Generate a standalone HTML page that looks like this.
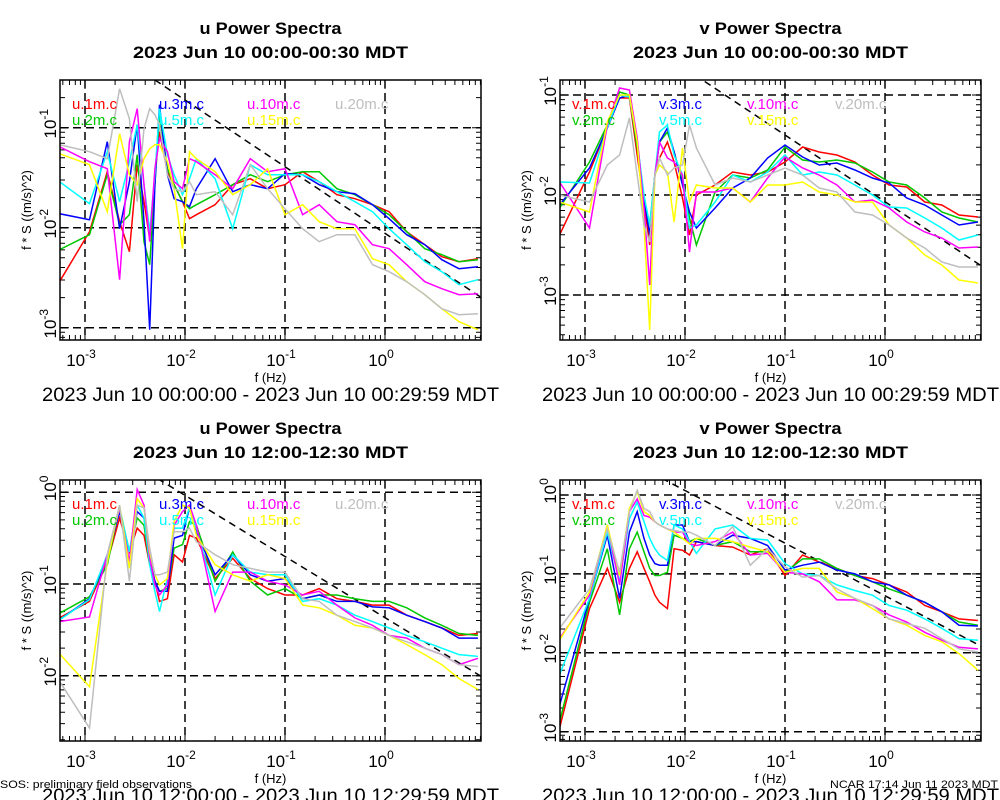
<!DOCTYPE html>
<html><head><meta charset="utf-8"><style>
html,body{margin:0;padding:0;background:#fff;}
svg{display:block;font-family:"Liberation Sans",sans-serif;}
</style></head><body>
<svg id="chart" width="1000" height="800" viewBox="0 0 1000 800" xmlns="http://www.w3.org/2000/svg">
<text x="0" y="788" font-size="11" textLength="192" lengthAdjust="spacingAndGlyphs">SOS: preliminary field observations</text>
<text x="998" y="788" font-size="11" text-anchor="end" textLength="168" lengthAdjust="spacingAndGlyphs">NCAR 17:14 Jun 11 2023 MDT</text>
</svg>
<script>
const freqs = [0.000556,0.00111,0.00167,0.00222,0.00278,0.00333,0.00389,0.00444,0.005,0.00556,0.00667,0.00778,0.00944,0.0111,0.013,0.02,0.03,0.045,0.067,0.1,0.15,0.22,0.33,0.5,0.75,1.1,1.65,2.5,3.7,5.5,8.5];
const seriesColors = ["#ff0000","#00c800","#0000ff","#00ffff","#ff00ff","#ffff00","#bebebe"];
const seriesSuffix = ["1m.c","2m.c","3m.c","5m.c","10m.c","15m.c","20m.c"];
// log10 of f*S, per panel, per series
const p1_log10S = [
[-2.54,-2.04,-1.44,-1.94,-2.24,-1.37,-1.74,-2.11,-1.47,-1.04,-1.44,-1.57,-1.74,-1.91,-1.87,-1.77,-1.57,-1.51,-1.61,-1.57,-1.44,-1.54,-1.67,-1.71,-1.77,-1.84,-2.04,-2.17,-2.29,-2.34,-2.31],
[-2.22,-2.07,-1.47,-1.97,-1.87,-1.27,-2.14,-2.37,-1.57,-0.87,-1.41,-1.57,-1.74,-1.81,-1.77,-1.67,-1.57,-1.47,-1.54,-1.47,-1.44,-1.44,-1.61,-1.67,-1.77,-1.87,-2.04,-2.21,-2.27,-2.34,-2.32],
[-1.86,-1.92,-1.14,-2.01,-1.54,-0.97,-1.94,-3.02,-1.57,-0.77,-1.47,-1.71,-1.74,-1.79,-1.61,-1.31,-1.64,-1.57,-1.61,-1.46,-1.47,-1.57,-1.64,-1.66,-1.77,-1.91,-2.07,-2.17,-2.32,-2.41,-2.39],
[-1.54,-1.76,-1.24,-1.74,-1.34,-0.97,-1.57,-2.04,-1.47,-0.81,-1.27,-1.47,-1.67,-1.51,-1.31,-1.51,-2.01,-1.37,-1.47,-1.47,-1.47,-1.54,-1.64,-1.74,-1.84,-2.01,-2.17,-2.34,-2.44,-2.57,-2.52],
[-1.19,-1.34,-1.41,-2.52,-1.14,-0.81,-1.57,-2.14,-1.41,-1.11,-1.24,-1.54,-1.61,-1.31,-1.34,-1.47,-1.61,-1.31,-1.44,-1.41,-1.87,-1.77,-1.94,-1.97,-2.17,-2.21,-2.37,-2.54,-2.61,-2.67,-2.66],
[-1.26,-1.37,-1.84,-1.06,-1.47,-1.57,-1.31,-1.21,-1.17,-1.17,-1.34,-1.61,-2.21,-1.24,-1.31,-1.44,-1.67,-1.57,-1.41,-1.87,-1.77,-1.94,-2.01,-2.01,-2.31,-2.37,-2.54,-2.67,-2.81,-2.94,-3.02],
[-1.17,-1.24,-1.31,-0.61,-0.91,-1.74,-1.01,-0.81,-0.87,-0.97,-1.47,-1.61,-1.64,-1.54,-1.67,-1.64,-1.87,-1.37,-1.61,-1.81,-2.01,-2.14,-2.07,-2.07,-2.37,-2.44,-2.54,-2.67,-2.81,-2.87,-2.86]];
const p2_log10S = [
[-2.40,-1.77,-1.33,-1.03,-1.03,-1.60,-2.07,-2.50,-1.80,-1.63,-1.47,-1.67,-2.03,-2.40,-2.00,-1.90,-1.77,-1.80,-1.77,-1.67,-1.52,-1.57,-1.60,-1.67,-1.80,-1.90,-1.92,-2.07,-2.10,-2.20,-2.22],
[-2.13,-1.67,-1.30,-0.97,-1.00,-1.53,-2.03,-2.30,-1.80,-1.47,-1.37,-1.57,-1.87,-2.23,-2.50,-1.97,-1.80,-1.83,-1.75,-1.52,-1.65,-1.67,-1.65,-1.68,-1.77,-1.87,-1.90,-2.03,-2.17,-2.23,-2.27],
[-2.10,-1.73,-1.33,-1.03,-1.00,-1.47,-2.03,-2.40,-1.80,-1.47,-1.33,-1.57,-1.90,-2.17,-2.33,-2.13,-1.93,-1.83,-1.63,-1.50,-1.62,-1.70,-1.68,-1.75,-1.83,-1.88,-2.03,-2.10,-2.20,-2.30,-2.27],
[-1.87,-1.88,-1.33,-1.00,-1.02,-1.47,-2.00,-2.30,-1.80,-1.37,-1.30,-1.60,-1.80,-2.33,-2.30,-2.07,-1.80,-1.87,-1.77,-1.60,-1.80,-1.77,-1.80,-1.90,-2.00,-2.12,-2.13,-2.23,-2.33,-2.45,-2.40],
[-1.87,-2.33,-1.30,-0.93,-0.95,-1.43,-2.13,-2.90,-1.80,-1.47,-1.63,-1.67,-1.80,-2.57,-1.97,-1.97,-1.93,-2.07,-1.83,-1.62,-1.73,-1.80,-1.90,-2.07,-2.05,-2.13,-2.27,-2.37,-2.43,-2.53,-2.52],
[-2.07,-2.17,-1.27,-1.00,-1.00,-1.47,-2.30,-3.35,-1.80,-1.70,-1.77,-2.27,-1.53,-2.07,-1.90,-1.93,-1.93,-2.07,-1.90,-1.90,-1.87,-1.97,-2.00,-2.07,-2.07,-2.30,-2.43,-2.60,-2.70,-2.85,-2.88],
[-2.00,-2.07,-1.70,-1.60,-1.23,-1.80,-2.30,-2.47,-1.80,-1.63,-1.80,-1.73,-1.70,-1.30,-1.53,-1.90,-1.83,-1.87,-1.80,-1.73,-1.80,-1.93,-1.97,-2.17,-2.20,-2.30,-2.43,-2.53,-2.67,-2.72,-2.72]];
const p3_log10S = [
[-1.37,-1.19,-0.76,-0.28,-0.65,-0.39,-0.47,-0.79,-0.97,-1.19,-1.16,-0.68,-0.76,-0.47,-0.50,-0.94,-0.72,-0.94,-1.05,-1.12,-1.12,-1.05,-1.16,-1.19,-1.23,-1.23,-1.34,-1.41,-1.48,-1.56,-1.54],
[-1.32,-1.14,-0.79,-0.17,-0.65,-0.28,-0.36,-0.79,-0.97,-1.08,-1.05,-0.61,-0.57,-0.32,-0.36,-0.97,-0.65,-0.97,-1.12,-1.05,-1.16,-1.12,-1.12,-1.16,-1.19,-1.19,-1.26,-1.37,-1.45,-1.54,-1.56],
[-1.39,-1.16,-0.72,-0.21,-0.65,-0.21,-0.28,-0.72,-0.97,-1.08,-1.08,-0.50,-0.47,-0.17,-0.43,-0.90,-0.68,-0.90,-0.97,-0.94,-1.16,-1.12,-1.19,-1.19,-1.25,-1.26,-1.34,-1.41,-1.48,-1.59,-1.59],
[-1.39,-1.17,-0.68,-0.17,-0.65,-0.14,-0.28,-0.79,-1.08,-1.30,-0.94,-0.39,-0.39,-0.17,-0.39,-1.12,-0.68,-0.87,-0.90,-0.90,-1.19,-1.16,-1.23,-1.34,-1.41,-1.48,-1.56,-1.63,-1.70,-1.77,-1.79],
[-1.41,-1.36,-0.68,-0.17,-0.76,0.03,-0.14,-0.72,-1.01,-1.12,-1.01,-0.36,-0.21,-0.14,-0.36,-1.30,-0.87,-0.87,-0.97,-1.01,-1.12,-1.08,-1.23,-1.37,-1.45,-1.56,-1.59,-1.70,-1.77,-1.88,-1.81],
[-1.76,-2.12,-0.76,-0.14,-0.83,-0.07,-0.17,-0.65,-0.90,-1.01,-0.94,-0.32,-0.14,-0.17,-0.47,-0.79,-0.90,-0.97,-0.90,-0.94,-1.23,-1.26,-1.34,-1.45,-1.48,-1.56,-1.66,-1.77,-1.88,-2.03,-2.15],
[-2.06,-2.57,-0.68,-0.14,-0.97,-0.14,-0.17,-0.61,-0.90,-0.90,-0.87,-0.43,-0.43,-0.39,-0.54,-0.68,-0.79,-0.83,-0.87,-0.87,-1.16,-1.19,-1.34,-1.41,-1.48,-1.56,-1.63,-1.70,-1.77,-1.88,-1.90]];
const p4_log10S = [
[-2.96,-1.44,-0.93,-1.36,-0.93,-0.72,-0.93,-1.10,-1.27,-1.36,-1.44,-0.68,-0.70,-0.76,-0.59,-0.64,-0.66,-0.76,-0.68,-1.02,-0.76,-0.85,-0.93,-1.02,-1.06,-1.14,-1.23,-1.40,-1.48,-1.57,-1.59],
[-2.88,-1.36,-0.68,-1.52,-0.68,-0.47,-0.72,-0.93,-1.02,-1.02,-0.98,-0.51,-0.55,-0.59,-0.55,-0.64,-0.59,-0.72,-0.72,-0.98,-0.81,-0.81,-0.93,-1.02,-1.10,-1.19,-1.27,-1.36,-1.48,-1.61,-1.65],
[-2.67,-1.31,-0.51,-1.31,-0.47,-0.21,-0.55,-0.76,-0.87,-0.89,-0.89,-0.38,-0.38,-0.59,-0.59,-0.64,-0.51,-0.55,-0.64,-0.95,-0.89,-0.85,-0.95,-1.00,-1.10,-1.14,-1.27,-1.36,-1.48,-1.65,-1.66],
[-2.28,-1.31,-0.47,-1.10,-0.30,-0.09,-0.34,-0.55,-0.68,-0.76,-0.83,-0.38,-0.43,-0.59,-0.74,-0.43,-0.38,-0.55,-0.57,-0.87,-1.00,-1.02,-1.14,-1.21,-1.27,-1.40,-1.46,-1.57,-1.69,-1.82,-1.84],
[-1.82,-1.27,-0.38,-1.14,-0.21,-0.05,-0.26,-0.28,-0.34,-0.38,-0.43,-0.47,-0.47,-0.62,-0.64,-0.59,-0.47,-0.76,-0.74,-0.98,-1.00,-1.10,-1.33,-1.33,-1.40,-1.52,-1.61,-1.74,-1.84,-1.93,-1.95],
[-1.84,-1.23,-0.38,-1.02,-0.17,0.04,-0.21,-0.26,-0.34,-0.38,-0.43,-0.47,-0.55,-0.62,-0.55,-0.55,-0.59,-0.66,-0.72,-0.98,-0.93,-0.93,-1.23,-1.31,-1.44,-1.57,-1.65,-1.78,-1.86,-2.01,-2.22],
[-1.69,-1.19,-0.43,-0.98,-0.21,0.06,-0.17,-0.21,-0.34,-0.38,-0.43,-0.45,-0.47,-0.47,-0.51,-0.64,-0.40,-0.89,-0.68,-0.91,-1.04,-1.02,-1.19,-1.31,-1.40,-1.57,-1.63,-1.69,-1.82,-1.95,-1.99]];
const xTickExps = [-3,-2,-1,0];
const p1_yTickExps = [-1,-2,-3];
const p2_yTickExps = [-1,-2,-3];
const p3_yTickExps = [0,-1,-2];
const p4_yTickExps = [0,-1,-2,-3];
const refLineAtTenthHz = [-1.39,-1.40,-0.70,-0.61]; // log10 value of f^-2/3 reference at 0.1 Hz

const NS="http://www.w3.org/2000/svg";
const svg=document.getElementById('chart');
function mk(tag,attrs,parent){const e=document.createElementNS(NS,tag);for(const k in attrs)e.setAttribute(k,attrs[k]);(parent||svg).appendChild(e);return e;}

const panels=[
 {ox:0,top:80,bot:340,y0:127.7,ppd:100,yref:-1,var:"u",title2:"2023 Jun 10 00:00-00:30 MDT",range:"2023 Jun 10 00:00:00 - 2023 Jun 10 00:29:59 MDT",data:p1_log10S,yt:p1_yTickExps,name:"u-spectra-night"},
 {ox:500,top:80,bot:340,y0:95,ppd:100,yref:-1,var:"v",title2:"2023 Jun 10 00:00-00:30 MDT",range:"2023 Jun 10 00:00:00 - 2023 Jun 10 00:29:59 MDT",data:p2_log10S,yt:p2_yTickExps,name:"v-spectra-night"},
 {ox:0,top:480,bot:741,y0:492.3,ppd:91.7,yref:0,var:"u",title2:"2023 Jun 10 12:00-12:30 MDT",range:"2023 Jun 10 12:00:00 - 2023 Jun 10 12:29:59 MDT",data:p3_log10S,yt:p3_yTickExps,name:"u-spectra-noon"},
 {ox:500,top:480,bot:741,y0:495,ppd:78.9,yref:0,var:"v",title2:"2023 Jun 10 12:00-12:30 MDT",range:"2023 Jun 10 12:00:00 - 2023 Jun 10 12:29:59 MDT",data:p4_log10S,yt:p4_yTickExps,name:"v-spectra-noon"}];

panels.forEach((p,pi)=>{
 const L=60+p.ox,R=481+p.ox,T=p.top,B=p.bot,cx=(L+R)/2;
 const xs=lf=>85+p.ox+(lf+3)*100;
 const ys=l=>p.y0-(l-p.yref)*p.ppd;
 const g=mk('g',{});
 
 
 const clipId='clip'+pi;
 const cp=mk('clipPath',{id:clipId},g);mk('rect',{x:L,y:T,width:R-L,height:B-T},cp);
 let t=mk('text',{x:cx,y:T-46,'font-size':17,'font-weight':'bold','text-anchor':'middle',textLength:142,lengthAdjust:'spacingAndGlyphs'},g);t.textContent=p.var+" Power Spectra";
 
 t=mk('text',{x:cx,y:T-22,'font-size':17,'font-weight':'bold','text-anchor':'middle',textLength:275,lengthAdjust:'spacingAndGlyphs'},g);t.textContent=p.title2;
 
 xTickExps.forEach(e=>{const l=mk('line',{x1:xs(e),x2:xs(e),y1:T,y2:B,stroke:'#000','stroke-width':1.5,'stroke-dasharray':'8,5'},g);
  
  const tx=mk('text',{x:xs(e)-4,y:B+26,'font-size':17,'text-anchor':'middle'},g);
  
  tx.appendChild(document.createTextNode('10'));const s=mk('tspan',{'font-size':12,dy:-8},tx);s.textContent=String(e);});
 p.yt.forEach(e=>{const y=ys(e);const l=mk('line',{x1:L,x2:R,y1:y,y2:y,stroke:'#000','stroke-width':1.5,'stroke-dasharray':'8,5'},g);
  
  const tx=mk('text',{x:0,y:0,'font-size':17,'text-anchor':'middle',transform:`translate(${L-4},${y-4}) rotate(-90)`},g);
  
  tx.appendChild(document.createTextNode('10'));const s=mk('tspan',{'font-size':12,dy:-8},tx);s.textContent=String(e);});
 let d='';
 for(let e=-4;e<=1;e++)for(let m=1;m<=9;m++){const x=xs(e+Math.log10(m));if(x>L&&x<R){const len=m===1?9:5;d+=`M${x},${B}v${-len}M${x},${T}v${len}`;}}
 for(let e=-4;e<=1;e++)for(let m=1;m<=9;m++){const y=ys(e+Math.log10(m));if(y>T&&y<B){const len=m===1?9:5;d+=`M${L},${y}h${len}M${R},${y}h${-len}`;}}
 const mt=mk('path',{d:d,stroke:'#000','stroke-width':1,fill:'none'},g);
 
 const ref=refLineAtTenthHz[pi];
 const lfa=-3.4,lfb=1.1;
 const rl=mk('line',{x1:xs(lfa),y1:ys(ref-(2/3)*(lfa+1)),x2:xs(lfb),y2:ys(ref-(2/3)*(lfb+1)),stroke:'#000','stroke-width':1.5,'stroke-dasharray':'7,5','clip-path':`url(#${clipId})`},g);
 
 p.data.forEach((vals,si)=>{
  const pts=vals.map((v,i)=>xs(Math.log10(freqs[i])).toFixed(1)+','+ys(v).toFixed(1)).join(' ');
  const pl=mk('polyline',{points:pts,fill:'none',stroke:seriesColors[si],'stroke-width':1.5,'clip-path':`url(#${clipId})`},g);
  
  
 });
 const lx=[L+12,L+99,L+187,L+275];
 seriesSuffix.forEach((s,si)=>{
  const col=si===6?3:Math.floor(si/2), row=si===6?0:si%2;
  const tx=mk('text',{x:lx[col],y:T+29+row*16,'font-size':15,fill:seriesColors[si]},g);
  tx.textContent=p.var+'.'+s;
  
 });
 const fr=mk('rect',{x:L,y:T,width:R-L,height:B-T,fill:'none',stroke:'#000','stroke-width':1.5},g);
 
 t=mk('text',{x:cx,y:B+42,'font-size':13,'text-anchor':'middle'},g);t.textContent='f (Hz)';
 
 t=mk('text',{x:0,y:0,'font-size':13,'text-anchor':'middle',transform:`translate(${p.ox+31},${(T+B)/2}) rotate(-90)`},g);t.textContent='f * S ((m/s)^2)';
 
 t=mk('text',{x:cx,y:B+61,'font-size':19,'text-anchor':'middle',textLength:457,lengthAdjust:'spacingAndGlyphs'},g);t.textContent=p.range;
 
});
</script>
</body></html>
